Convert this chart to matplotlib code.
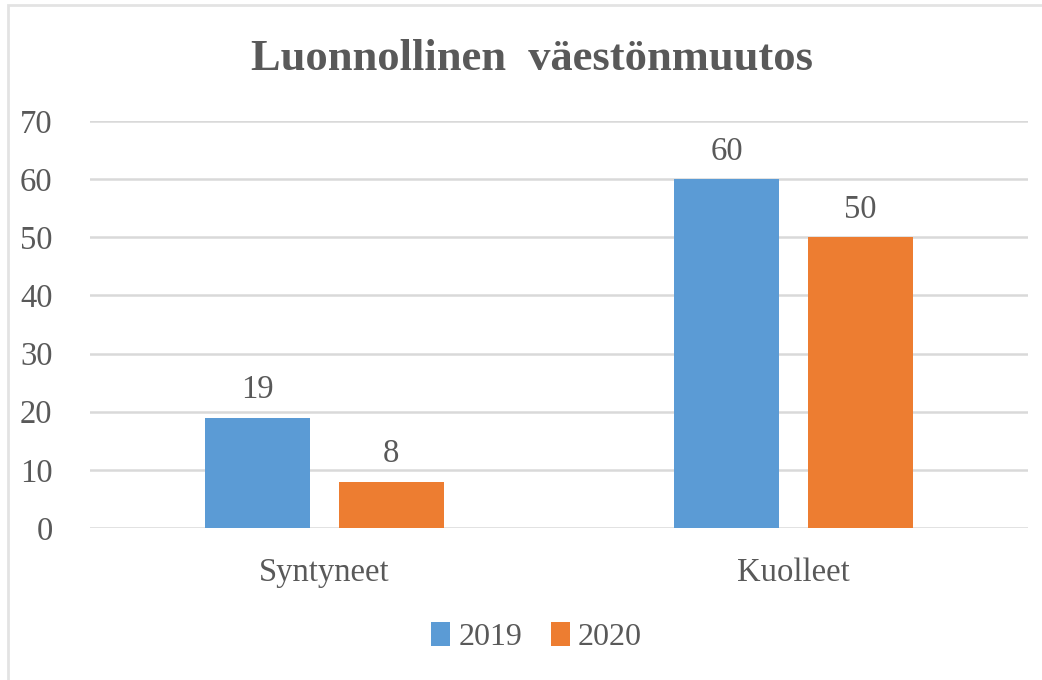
import matplotlib.pyplot as plt
import numpy as np
from matplotlib.patches import Rectangle

categories = ['Syntyneet', 'Kuolleet']
years = ['2019', '2020']
values_2019 = [19, 60]
values_2020 = [8, 50]
colors = ['#5b9bd5', '#ed7d31']

plt.rcParams['font.family'] = ['Liberation Serif', 'DejaVu Serif']
text_color = '#595959'
grid_color = '#d9d9d9'

fig = plt.figure(figsize=(10.42, 6.8), dpi=100)
ax = fig.add_axes([0.0864, 0.2235, 0.9002, 0.5986])

x = np.arange(len(categories))
width = 0.224
offset = 0.142
b1 = ax.bar(x - offset, values_2019, width, color=colors[0], label=years[0], zorder=3)
b2 = ax.bar(x + offset, values_2020, width, color=colors[1], label=years[1], zorder=3)

for bars in (b1, b2):
    ax.bar_label(bars, padding=9, fontsize=23.5, color=text_color)

ax.set_xlim(-0.5, 1.5)
ax.set_ylim(0, 70)
ax.set_yticks(range(0, 71, 10))
ax.set_xticks(x)
ax.set_xticklabels(categories)
ax.yaxis.grid(True, color=grid_color, linewidth=1.8, zorder=0)
ax.set_axisbelow(True)
for s in ax.spines.values():
    s.set_visible(False)
ax.tick_params(axis='both', length=0, labelsize=23.5, labelcolor=text_color)
ax.tick_params(axis='y', pad=27)
ax.tick_params(axis='x', pad=21)

fig.text(0.511, 0.913, 'Luonnollinen  väestönmuutos', ha='center', va='center',
         fontsize=32, fontweight='bold', color=text_color)

fig.legend(loc='center', bbox_to_anchor=(0.515, 0.063), ncol=2, frameon=False,
           fontsize=23, labelcolor=text_color, handlelength=0.6, handleheight=0.75,
           handletextpad=0.25, columnspacing=0.9)

fig.patches.append(Rectangle((0.0077, -0.1), 1.2, 1.0926, transform=fig.transFigure,
                             fill=False, edgecolor='#e3e3e3', linewidth=2))

fig.savefig('out.png', dpi=100)
